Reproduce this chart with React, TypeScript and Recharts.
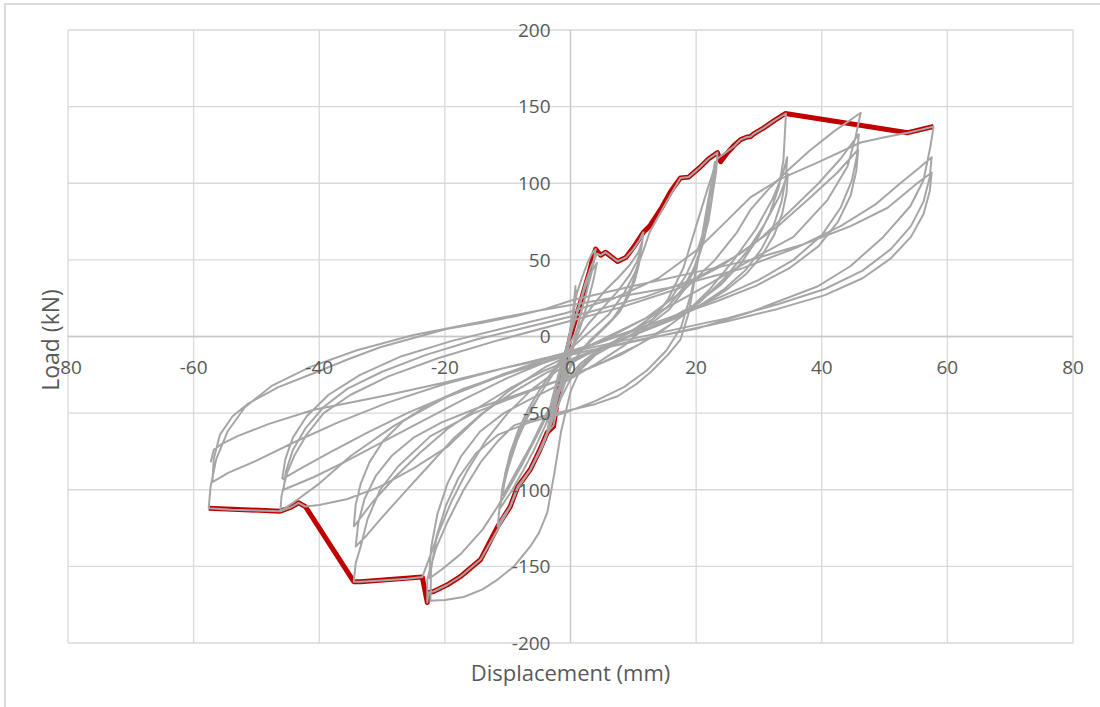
import { LineChart, Line, XAxis, YAxis, CartesianGrid, ReferenceLine } from 'recharts';

// axis ticks
const xTicks = [-80, -60, -40, -20, 0, 20, 40, 60, 80];
const yTicks = [-200, -150, -100, -50, 0, 50, 100, 150, 200];

// small elastic cycles (about +/-1.5 mm)
const cyclesA = [
  [0, 0], [0.4, 16], [0.8, 33], [0.3, 12], [-0.4, -8], [-1, -20], [-1.6, -33], [-1, -18], [-0.3, -2],
  [0.3, 14], [0.9, 30], [0.4, 10], [-0.5, -10], [-1.1, -22], [-1.7, -32], [-1, -14], [0, 4], [0.5, 18], [1, 28],
];

// +/-4 mm
const cyclesB = [
  [1, 28], [1.8, 38], [2.7, 48], [3.4, 54], [4, 57], [3.5, 44], [2.5, 28], [1.5, 12], [0.5, -4], [-0.5, -18],
  [-1.5, -32], [-2.7, -50], [-3.7, -62], [-3.2, -50], [-2.4, -36], [-1.4, -20], [-0.4, -4], [0.8, 12], [2, 28],
  [3, 40], [4.2, 48], [3.6, 36], [2.6, 20], [1.4, 4], [0.2, -10], [-1, -24], [-2.2, -40], [-3.2, -52], [-3.8, -56],
];

// +/-11.6 mm
const cyclesC = [
  [-3.8, -56], [-3, -42], [-2, -26], [-1, -12], [0, 2], [1.2, 18], [2.3, 34], [3.3, 46], [4.2, 54], [4.8, 53],
  [5.6, 55], [6.5, 52], [7.5, 49], [8.8, 51.5], [10, 57], [11, 63], [11.6, 68],
  [11.3, 58], [10.7, 46], [9.8, 34], [8.5, 22], [6.8, 12], [4.8, 4], [3, -3], [1.5, -10], [0, -20], [-1.2, -34],
  [-2.2, -48], [-2.7, -58], [-3.7, -62.6], [-5, -75], [-6.4, -86.8], [-8.4, -98], [-9.6, -111], [-10.8, -118], [-11.6, -124],
  [-11.3, -112], [-10.7, -98], [-9.8, -84], [-8.5, -68], [-7, -54], [-5.2, -40], [-3.4, -28], [-1.5, -15], [0, -4],
  [1.5, 8], [3.5, 20], [5.5, 30], [7.5, 38], [9.5, 47], [10.8, 55], [11.4, 62],
  [11.1, 52], [10.4, 40], [9.4, 28], [8, 18], [6.2, 9], [4.2, 1], [2.2, -7], [0.5, -16], [-1, -28], [-2.5, -42],
  [-4, -58], [-5.8, -74], [-7.6, -88], [-9.4, -101], [-11.2, -112],
  [-10.9, -100], [-10.3, -88], [-9.4, -75], [-8, -61], [-6.4, -48], [-4.6, -36], [-2.7, -24], [-0.8, -12], [1, -2],
  [3, 9], [5.2, 19], [7.4, 29], [9.4, 40], [10.6, 49], [11.2, 57],
  [10.9, 47], [10.2, 36], [9.2, 26], [7.8, 16], [6, 8], [4, 0], [2, -8], [0.3, -17], [-1.2, -28], [-2.8, -42],
  [-4.5, -56], [-6.3, -71], [-8.2, -85], [-9.7, -96], [-10.8, -104],
];

// +/-23 mm
const cyclesD = [
  [-10.8, -104], [-10.4, -90], [-9.6, -76], [-8.4, -62], [-6.8, -48], [-4.8, -34], [-2.6, -21], [0, -8], [3, 3],
  [6, 14], [8.5, 28], [10.3, 42], [11.6, 56], [12.6, 68], [14.5, 82], [16, 93], [17.5, 103.5], [18.8, 104],
  [20.5, 110], [22, 116], [23.4, 120],
  [23.2, 108], [22.6, 92], [21.6, 74], [20.2, 56], [18.4, 40], [16.2, 26], [13.6, 15], [10.6, 6], [7.4, -2],
  [4.2, -10], [1.5, -20], [0, -28], [-1.5, -40], [-3, -56], [-4.5, -72], [-6.4, -87], [-8.4, -99], [-9.6, -111],
  [-11.6, -126], [-14.3, -145.5], [-17.5, -156.6], [-19.6, -162], [-21.8, -166.4], [-22.6, -167], [-22.8, -173.6],
  [-22.8, -158.6], [-21.4, -138], [-19.6, -121], [-17, -100], [-14.3, -82], [-11.5, -68], [-9, -58], [-4.5, -52],
  [0, -48], [4, -44], [7.5, -39], [10.5, -31], [12.7, -23.5], [15.5, -12], [17.5, -2], [18.8, 15], [19.8, 38],
  [20.8, 62], [21.8, 86], [22.6, 104], [23, 114],
  [22.8, 100], [22.2, 82], [21.2, 62], [19.8, 44], [18, 30], [15.8, 18], [13, 9], [10, 2], [7, -5], [4, -12],
  [1.5, -22], [0, -36], [-1.5, -62], [-2.6, -90], [-3.7, -115], [-5, -128], [-6.4, -137], [-9, -150],
  [-11.6, -158.6], [-14, -165], [-17, -170], [-20, -172], [-22.3, -172.5],
  [-22.2, -152], [-21.3, -130], [-19.8, -110], [-17.8, -92], [-15, -76], [-11.5, -64], [-6.5, -56], [-1, -50],
  [4, -42], [8.5, -33], [12.2, -22], [15.3, -9], [17.6, 6], [19.2, 28], [20.4, 52], [21.6, 78], [22.8, 106],
  [22.6, 92], [22, 76], [21, 60], [19.6, 44], [17.8, 31], [15.6, 20], [13, 11], [10, 4], [7, -3], [4, -10],
  [1.5, -18], [-1, -30], [-3, -45], [-5, -62], [-7.5, -82], [-10.5, -104], [-14, -126], [-17.5, -142],
  [-20.5, -152], [-22.5, -158],
];

// +/-34.5 mm
const cyclesE = [
  [-22.5, -158], [-22.2, -138], [-21.2, -116], [-19.6, -96], [-17.4, -78], [-14.4, -62], [-10.6, -50], [-6, -40],
  [-1, -30], [4, -18], [8.5, -6], [12.5, 8], [15.5, 24], [18, 45], [20, 72], [21.8, 96], [23.4, 116], [24.5, 119.5],
  [26, 124], [27.1, 128.5], [28, 130], [28.7, 130.5], [29.1, 132], [30.7, 136], [32.5, 141], [34.3, 145.5],
  [34.1, 130], [33.9, 115], [33.2, 98], [31.8, 81], [29.8, 64], [27.2, 48], [24, 34], [20.2, 22], [16, 12],
  [11.5, 4], [7, -4], [2.5, -12], [-2, -22], [-6, -34], [-10, -50], [-13.5, -68], [-16.5, -88], [-19, -108],
  [-21, -128], [-22.5, -145], [-23.6, -157], [-26, -158], [-29.5, -159], [-33.4, -160], [-34.5, -160],
  [-34.2, -148], [-33.4, -137], [-32.3, -119], [-30.3, -100], [-27.5, -85], [-22.3, -65], [-15.4, -50], [-8, -38],
  [0, -26], [8, -12], [14, 2], [18, 14], [22, 30], [26, 50], [29.5, 70], [32.2, 90], [33.8, 106], [34.5, 117],
  [34.3, 104], [33.6, 88], [32.3, 72], [30.4, 57], [27.8, 43], [24.5, 31], [20.5, 20], [16, 11], [11, 3], [6, -5],
  [1, -14], [-4, -24], [-9, -36], [-14, -50], [-18.5, -66], [-22.5, -84], [-26.5, -102], [-30, -118],
  [-32.5, -130], [-34.2, -137],
  [-33.8, -122], [-32.8, -106], [-31, -91], [-28.5, -78], [-25, -66], [-20.5, -56], [-15, -47], [-8.5, -38],
  [-1.5, -28], [5, -17], [11, -5], [16, 8], [20.5, 22], [24.5, 38], [28, 55], [31, 74], [33.2, 91], [34.6, 106],
  [34.4, 94], [33.7, 80], [32.4, 66], [30.5, 53], [28, 41], [24.7, 30], [20.8, 20], [16.3, 11], [11.4, 3],
  [6.3, -5], [1.2, -13], [-4, -22], [-9.3, -33], [-14.5, -46], [-19.5, -60], [-24, -76], [-28, -92],
  [-31.5, -108], [-34.5, -124],
];

// +/-46 mm
const cyclesF = [
  [-34.5, -124], [-34.2, -110], [-33.4, -96], [-32, -82], [-29.8, -68], [-26.6, -55], [-22.4, -44], [-17, -34],
  [-10.5, -25], [-3, -15], [5, -3], [12, 12], [18, 30], [23, 50], [26.5, 68], [28.7, 83], [31.5, 96], [34.5, 108],
  [38, 121], [42, 134], [46.2, 146],
  [45.4, 130.5], [44.1, 111], [40.9, 89], [35.5, 65], [28.7, 50], [22, 34], [15, 18], [8, 4], [2, -8], [-4, -20],
  [-10, -36], [-15, -54], [-19.6, -72], [-25, -86], [-30.3, -98], [-35.5, -106], [-40, -110], [-42.2, -111],
  [-43.3, -108.5], [-44.6, -111.6], [-46.2, -114],
  [-46, -104], [-45.2, -90], [-44, -78], [-42, -64], [-39.3, -50], [-35, -38], [-29, -26], [-21, -14], [-12, -3],
  [-2, 8], [8, 19], [17, 31], [24, 46], [30, 63], [35, 82], [39.5, 100], [43, 116], [45.9, 132],
  [45.6, 118], [44.8, 102], [43, 84], [40, 66], [35.5, 50], [30, 37], [24, 26], [17.5, 15], [11, 5], [4, -5],
  [-3, -15], [-10, -27], [-17, -41], [-24, -56], [-30.5, -70], [-36, -82], [-41, -92], [-45.7, -100],
  [-45.3, -88], [-44.2, -74], [-42.2, -60], [-39.3, -46], [-35.5, -34], [-30, -23], [-23, -12], [-15, -2], [-6, 7],
  [3, 16], [12, 26], [20, 38], [27, 54], [33, 72], [38, 90], [42.5, 107], [45.8, 122],
  [45.5, 108], [44.6, 92], [42.6, 75], [39.5, 59], [35, 45], [29.5, 33], [23.3, 23], [17, 14], [10.5, 5],
  [3.5, -5], [-3.5, -14], [-11, -25], [-18.5, -37], [-26, -50], [-32.5, -63], [-38, -75], [-42.5, -85], [-45.9, -93],
];

// +/-57.5 mm
const cyclesG = [
  [-45.9, -93], [-45.4, -80], [-44.2, -66], [-42, -52], [-38.5, -38], [-33.5, -25], [-27, -13], [-19, -3],
  [-10, 6], [-1, 15], [7, 25], [14, 38], [20, 56], [24.5, 74], [28.7, 91], [33.5, 103], [39.3, 113.5],
  [46.2, 126.6], [50, 130], [53.7, 133], [55.8, 135], [57.8, 137],
  [57.3, 124], [56.2, 102], [54.1, 85], [49.8, 65], [44.6, 46], [39.3, 32.6], [28.7, 16], [20, 5], [10, -3],
  [0, -12], [-10, -24], [-20, -40], [-28, -58], [-35, -78], [-40, -96], [-44, -108], [-46.2, -114],
  [-50, -113.5], [-54, -113], [-57.6, -112],
  [-57.3, -98], [-56.4, -80], [-54.6, -62], [-51.8, -46], [-47.5, -32], [-41.5, -20], [-34, -9], [-25, 1],
  [-15, 9], [-5, 17], [5, 24], [16, 32], [27, 44], [36, 58], [43, 72], [48.5, 86], [52.5, 100], [55.5, 110], [57.5, 117],
  [57.2, 104], [56.2, 88], [54.2, 72], [51, 57], [46.5, 43], [40.5, 31], [33, 21], [25, 12], [16, 4], [7, -4],
  [-2, -12], [-11, -21], [-20, -31], [-29, -43], [-37, -56], [-44, -69], [-50, -81], [-54.5, -89], [-57, -95],
  [-56.8, -80], [-55.8, -64], [-53.8, -52], [-51.4, -44], [-46.5, -33], [-40.9, -24], [-35.5, -15],
  [-30.3, -7], [-25, -1], [-19.6, 5], [-14, 9], [-9, 13], [-4, 18], [0.5, 24], [10, 33], [20, 42],
  [28.7, 50], [37, 60], [44.6, 72], [50.5, 84], [55.2, 100], [57.5, 107],
  [57.2, 95], [56.2, 80], [54.2, 65], [51, 51], [46.5, 38], [40.5, 27], [33, 18], [25, 10], [16, 2], [7, -6],
  [-2, -13], [-11, -21], [-20, -30], [-30, -39], [-41, -48], [-48, -57], [-53, -65], [-55.5, -70], [-56.8, -74],
  [-57.3, -82],
];

// backbone / envelope (red)
const envelope = [
  [-57.6, -112], [-46.2, -114], [-44.6, -111.6], [-43.3, -108.5], [-42.2, -111], [-34.5, -160], [-33.4, -160],
  [-23.6, -157], [-22.8, -173.6], [-22.6, -167], [-21.8, -166.4], [-19.6, -162], [-17.5, -156.6], [-14.3, -145.5],
  [-11.6, -124], [-9.6, -111], [-8.4, -98], [-6.4, -86.8], [-5, -75], [-3.7, -62.6], [-2.7, -58.7], [-2.2, -45],
  [-1.6, -28], [-0.8, -14], [0, 0], [1, 14], [2, 28], [3, 42], [3.6, 52], [4, 57], [4.8, 53], [5.6, 55],
  [6.5, 52], [7.5, 49], [8.8, 51.5], [10, 58], [11.6, 68], [12.6, 72], [14.5, 84], [16, 95], [17.5, 103.5],
  [18.8, 104], [20.5, 110], [22, 116], [23.4, 120], [23.9, 114], [25, 120], [26, 124.5], [27.1, 128.5], [28, 130],
  [28.7, 130.5], [29.1, 132], [30.7, 136], [32.5, 141], [34.2, 145.5], [53.7, 133], [57.8, 137],
];

const grayCycles = [cyclesA, cyclesB, cyclesC, cyclesD, cyclesE, cyclesF, cyclesG];

const toPoints = (arr: number[][]) => arr.map(([x, y]) => ({ x, y }));

const W = 1100;
const H = 707;
const AXIS_SPACE = 30;
const MARGIN = { top: 30, right: 27, bottom: 64 - AXIS_SPACE, left: 68 - AXIS_SPACE };
const PLOT_W = W - 68 - MARGIN.right;
const PLOT_H = H - MARGIN.top - 64;
const ZERO_X = 68 + PLOT_W / 2;
const ZERO_Y = MARGIN.top + PLOT_H / 2;

const FONT = "'Open Sans', sans-serif";
const TEXT = '#595959';
const GRID = '#d9d9d9';
const GRAY = '#a6a6a6';
const RED = '#c00000';

const renderXTick = (props: any) => (
  <text key={props.index} x={props.x} y={ZERO_Y + 37} textAnchor="middle" fill={TEXT} fontSize={19} fontFamily={FONT}>
    {props.payload.value}
  </text>
);

const renderYTick = (props: any) => (
  <text key={props.index} x={ZERO_X - 20} y={props.y} dy="0.36em" textAnchor="end" fill={TEXT} fontSize={19} fontFamily={FONT}>
    {props.payload.value}
  </text>
);

export default function App() {
  return (
    <div style={{ position: 'absolute', left: 0, top: 0, width: W, height: H, background: '#fff', overflow: 'hidden' }}>
      {/* outer chart frame, cut off at right and bottom */}
      <div style={{
        position: 'absolute', left: 4, top: 3, width: W, height: H,
        borderLeft: `2px solid ${GRID}`, borderTop: `2px solid ${GRID}`,
      }} />
      <div style={{ position: 'absolute', left: 0, top: 0 }}>
        <LineChart width={W} height={H} margin={MARGIN}>
          <CartesianGrid stroke={GRID} strokeWidth={1.3} />
          <XAxis
            type="number"
            dataKey="x"
            domain={[-80, 80]}
            ticks={xTicks}
            height={AXIS_SPACE}
            axisLine={false}
            tickLine={false}
            tick={renderXTick}
            interval={0}
          />
          <YAxis
            type="number"
            dataKey="y"
            domain={[-200, 200]}
            ticks={yTicks}
            width={AXIS_SPACE}
            axisLine={false}
            tickLine={false}
            tick={renderYTick}
            interval={0}
          />
          <ReferenceLine x={0} stroke="#c8c8c8" strokeWidth={1.3} />
          <ReferenceLine y={0} stroke="#c8c8c8" strokeWidth={1.3} />
          <Line
            data={toPoints(envelope)}
            dataKey="y"
            type="linear"
            stroke={RED}
            strokeWidth={5}
            strokeLinejoin="round"
            dot={false}
            activeDot={false}
            isAnimationActive={false}
          />
          {grayCycles.map((c, i) => (
            <Line
              key={i}
              data={toPoints(c)}
              dataKey="y"
              type="linear"
              stroke={GRAY}
              strokeWidth={2}
              strokeLinejoin="round"
              dot={false}
              activeDot={false}
              isAnimationActive={false}
            />
          ))}
        </LineChart>
      </div>
      <div style={{
        position: 'absolute', left: ZERO_X, top: 672, transform: 'translate(-50%, -50%)',
        fontFamily: FONT, fontSize: 22, lineHeight: '22px', color: TEXT, whiteSpace: 'nowrap',
      }}>
        Displacement (mm)
      </div>
      <div style={{
        position: 'absolute', left: 50, top: 340, transform: 'translate(-50%, -50%) rotate(-90deg)',
        fontFamily: FONT, fontSize: 23, lineHeight: '20px', color: TEXT, whiteSpace: 'nowrap',
      }}>
        Load (kN)
      </div>
    </div>
  );
}
